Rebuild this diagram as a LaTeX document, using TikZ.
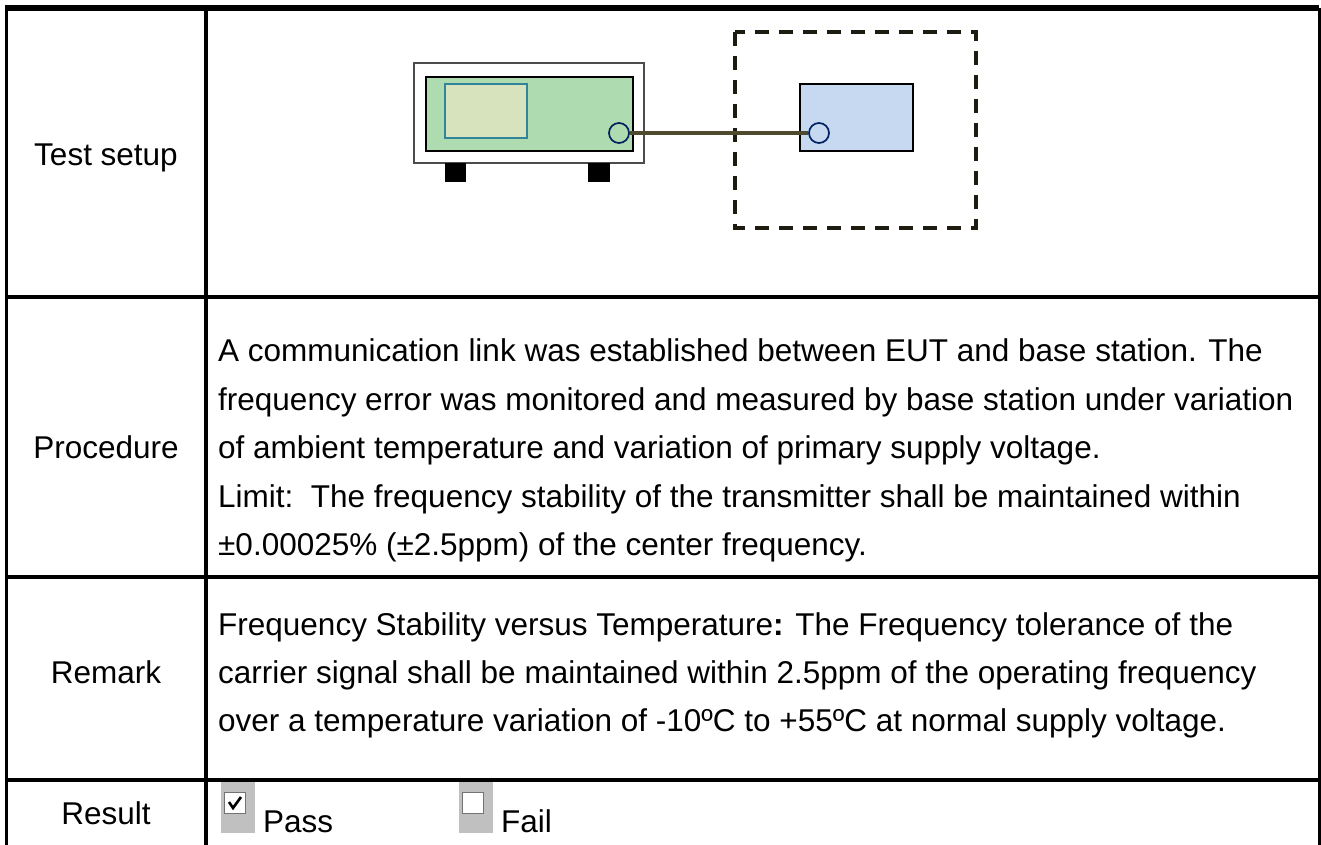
\documentclass[tikz,border=0pt]{standalone}
\usepackage{fontspec}
\setmainfont{Liberation Sans}
\usetikzlibrary{positioning}
\definecolor{instgreen}{RGB}{174,219,176}
\definecolor{screenfill}{RGB}{215,227,188}
\definecolor{screenedge}{RGB}{49,133,155}
\definecolor{eutblue}{RGB}{198,217,241}
\definecolor{portedge}{RGB}{0,32,96}
\definecolor{cablecol}{RGB}{79,73,45}
\definecolor{boxgray}{RGB}{192,192,192}
\definecolor{dashcol}{RGB}{30,27,16}
\tikzset{
  rule/.style={line width=3.3pt},
  cell/.style={font=\fontsize{31.5}{38}\selectfont, inner sep=0pt},
  txt/.style={cell, anchor=base west},
  lbl/.style={cell, anchor=base},
  port/.style={circle, draw=portedge, line width=1.7pt, minimum size=20pt, inner sep=0pt},
  tick/.style={rectangle, draw=black!55, fill=white, line width=1.2pt, minimum size=21pt, inner sep=0pt}
}
\begin{document}
\begin{tikzpicture}[x=1pt,y=-1pt]
			\useasboundingbox (0,0) rectangle (1321,845);
			\draw[line width=6pt] (5,8) -- (1319,8);
			\draw[rule] (6.5,8) -- (6.5,845);
			\draw[rule] (206,8) -- (206,845);
			\draw[rule] (1319.5,8) -- (1319.5,845);
			\draw[rule] (5,297) -- (1321,297);
			\draw[rule] (5,577) -- (1321,577);
			\draw[rule] (5,780) -- (1321,780);
			\node[lbl] (lblsetup) at (106,165) {Test setup};
			\node[lbl] (lblproc) at (106,458) {Procedure};
			\node[lbl] (lblrem) at (106,683) {Remark};
			\node[lbl] (lblres) at (106,824) {Result};
			\draw[black!70, fill=white, line width=1.2pt] (414,63) rectangle (644,163);
			\draw[black, fill=instgreen, line width=2pt] (426,77) rectangle (633,151);
			\draw[screenedge, fill=screenfill, line width=1.3pt] (445,84) rectangle (527,138);
			\fill (445,163) rectangle (466,182);
			\fill (588,163) rectangle (610,182);
			\draw[dashcol, line width=3.5pt, dash pattern=on 14pt off 10pt] (735,32) rectangle (976,228);
			\draw[black, fill=eutblue, line width=2pt] (800,84) rectangle (913,151);
			\node[port, fill=instgreen] (instport) at (619,133) {};
			\node[port, fill=eutblue] (eutport) at (819,133) {};
			\draw[cablecol, line width=3.5pt] (instport) -- (eutport);
			\node[txt] (proc1) at (218,361) {A communication link was established between EUT and base station. The};
			\node[txt] (proc2) at (218,410) {frequency error was monitored and measured by base station under variation};
			\node[txt] (proc3) at (218,458) {of ambient temperature and variation of primary supply voltage.};
			\node[txt] (proc4) at (218,507) {Limit:\ \ The frequency stability of the transmitter shall be maintained within};
			\node[txt] (proc5) at (218,555) {±0.00025\% (±2.5ppm) of the center frequency.};
			\node[txt] (rem1) at (218,635) {Frequency Stability versus Temperature\textbf{:} The Frequency tolerance of the};
			\node[txt] (rem2) at (218,683) {carrier signal shall be maintained within 2.5ppm of the operating frequency};
			\node[txt] (rem3) at (218,731) {over a temperature variation of -10ºC to +55ºC at normal supply voltage.};
			\fill[boxgray] (221,782) rectangle (255,833);
			\node[tick] (passbox) at (235,803) {};
			\draw[line width=2.6pt] (229,802) -- (233,808) -- (241,797);
			\node[txt] (pass) at (263,832) {Pass};
			\fill[boxgray] (459,782) rectangle (493,833);
			\node[tick] (failbox) at (473,803) {};
			\node[txt] (fail) at (501,832) {Fail};
\end{tikzpicture}
\end{document}
